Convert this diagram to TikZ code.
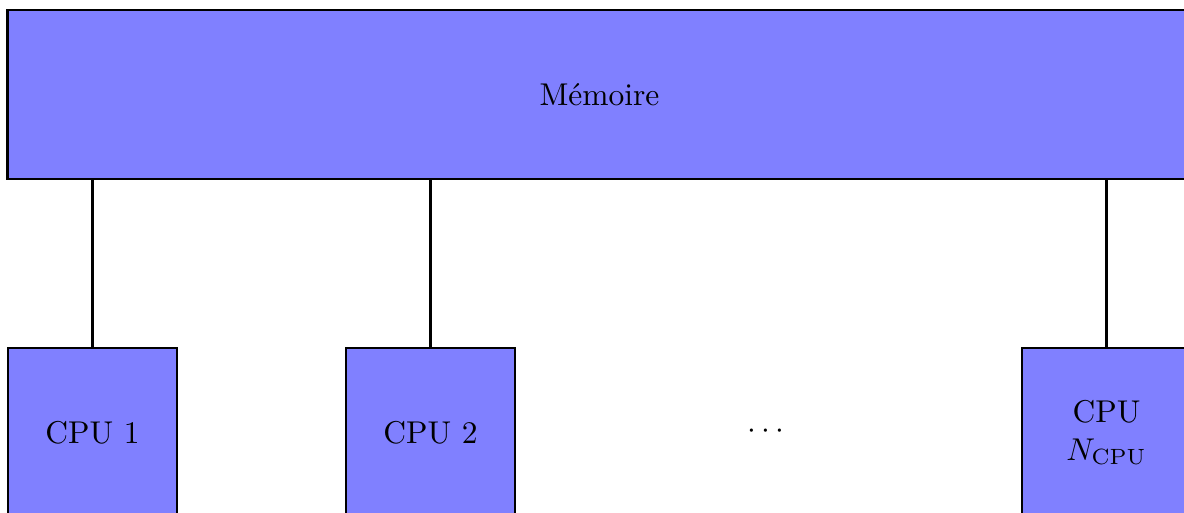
\documentclass[tikz,border=0pt]{standalone}
\begin{document}
\begin{tikzpicture}[x=0.3175pt,y=-0.3175pt,
  box/.style={draw=black,fill=blue!50,line width=0.8pt,inner sep=0pt,align=center},
  cpubox/.style={box,minimum width=53.66pt,minimum height=53.66pt},
  link/.style={draw=black,line width=0.8pt}]
\useasboundingbox (0,0) rectangle (1184,512);
\clip (0,0) rectangle (1184,512);
\node[box,minimum width=375.8pt,minimum height=53.66pt] (mem) at (599.5,94.5) {Mémoire};
\node[cpubox] (cpu1) at (92.5,432.5) {CPU 1};
\node[cpubox] (cpu2) at (430.5,432.5) {CPU 2};
\node[cpubox] (cpun) at (1106.5,432.5) {CPU\\$N_{\mathrm{CPU}}$};
\node[inner sep=0pt] (dots) at (766,431) {$\cdots$};
\draw[link] (mem.south -| cpu1.north) -- (cpu1.north);
\draw[link] (mem.south -| cpu2.north) -- (cpu2.north);
\draw[link] (mem.south -| cpun.north) -- (cpun.north);
\end{tikzpicture}
\end{document}
